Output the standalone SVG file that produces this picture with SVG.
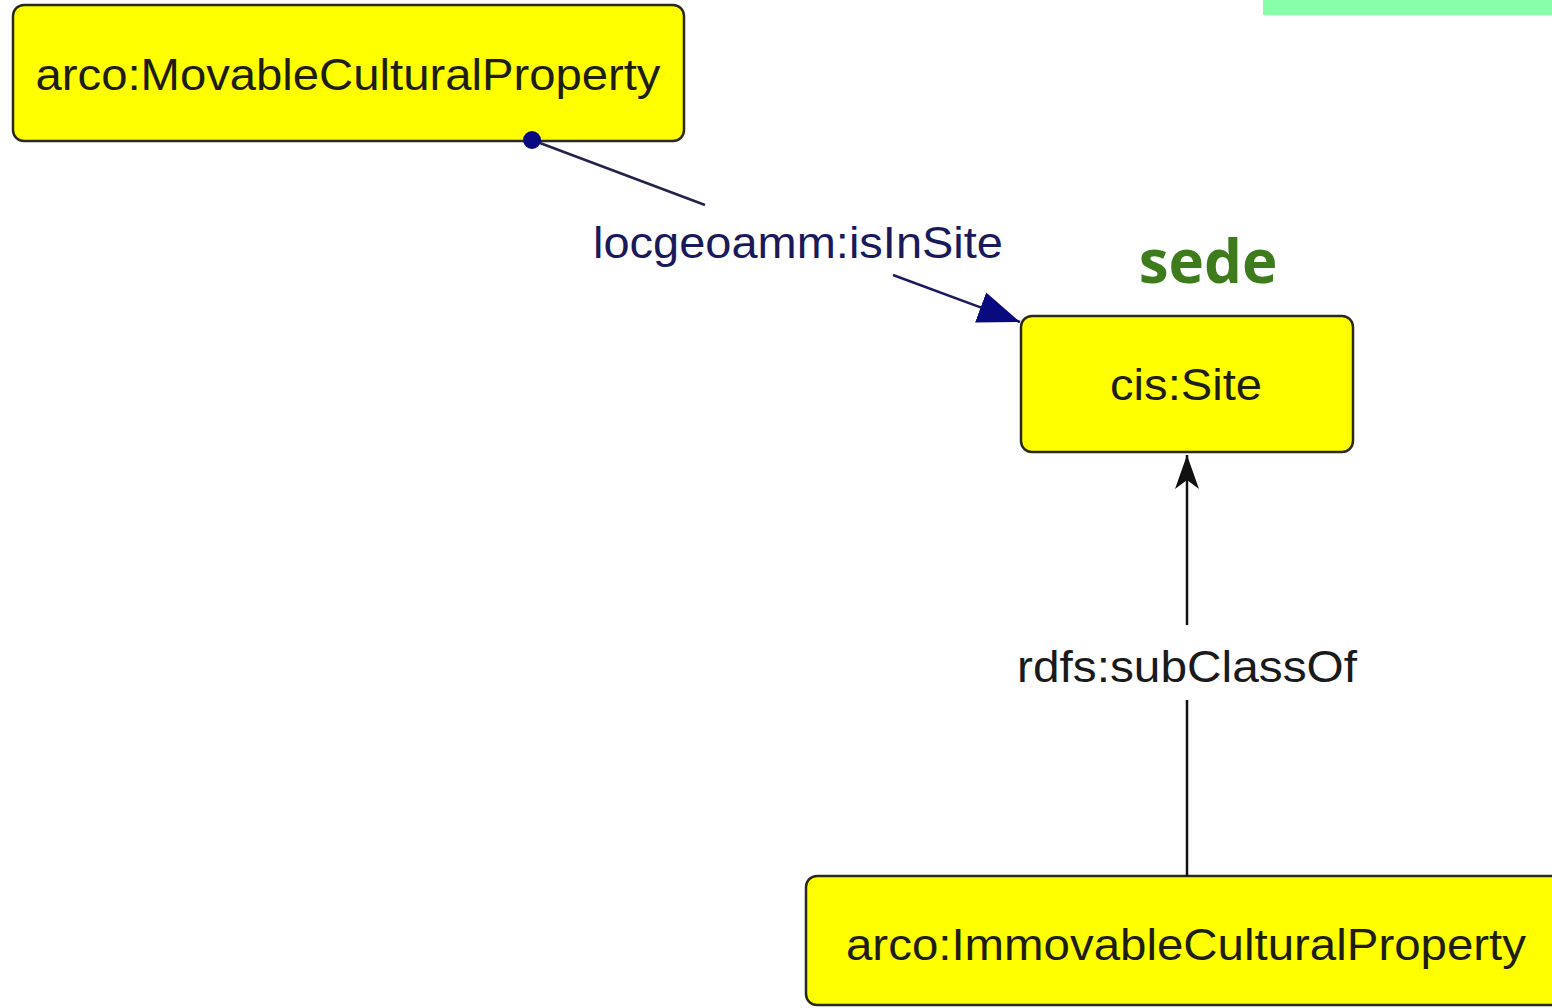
<svg xmlns="http://www.w3.org/2000/svg" width="1552" height="1008" viewBox="0 0 1552 1008">
<style>
.node rect{fill:#ffff00;stroke:#2a2a1a;stroke-width:2.5}
.lbl{font-family:"Liberation Sans",Arial,sans-serif;font-size:44px;fill:#1e1e10;text-anchor:middle}
.elbl{font-family:"Liberation Sans",Arial,sans-serif;font-size:44px;text-anchor:middle}
</style>
<defs>
<marker id="navyArrow" markerUnits="userSpaceOnUse" markerWidth="44" markerHeight="36" refX="42" refY="18" orient="auto">
<path d="M0,2 L42,18 L0,34 Z" fill="#0a0a80"/>
</marker>
<marker id="blackArrow" markerUnits="userSpaceOnUse" markerWidth="36" markerHeight="28" refX="34" refY="14" orient="auto">
<path d="M0,2 L34,14 L0,26 L9,14 Z" fill="#111"/>
</marker>
</defs>
<rect x="0" y="0" width="1552" height="1008" fill="#ffffff"/>
<rect x="1263" y="0" width="289" height="15" fill="#86ffa8"/>
<text x="1208" y="283" font-family="'Open Sans','Noto Sans',sans-serif" font-weight="bold" font-size="60" fill="#3e7b1c" text-anchor="middle">sede</text>
<g id="node-movable" class="node">
<rect x="13" y="5" width="671" height="136" rx="11"/>
<text class="lbl" x="348" y="90" textLength="625" lengthAdjust="spacingAndGlyphs">arco:MovableCulturalProperty</text>
</g>
<g id="node-site" class="node">
<rect x="1021" y="316" width="332" height="136" rx="11"/>
<text class="lbl" x="1186" y="400" textLength="152" lengthAdjust="spacingAndGlyphs">cis:Site</text>
</g>
<g id="node-immovable" class="node">
<rect x="806" y="876" width="770" height="129" rx="11"/>
<text class="lbl" x="1186" y="960" textLength="680" lengthAdjust="spacingAndGlyphs">arco:ImmovableCulturalProperty</text>
</g>
<g id="connectors">
<g id="edge-isInSite">
<line x1="532" y1="140" x2="705" y2="205" stroke="#22224a" stroke-width="2.5"/>
<circle cx="532" cy="140" r="9" fill="#0a0a80"/>
<line x1="893" y1="275" x2="1020" y2="322" stroke="#1a1a60" stroke-width="2.5" marker-end="url(#navyArrow)"/>
<text class="elbl" x="798" y="258" fill="#1a1a5a" textLength="410" lengthAdjust="spacingAndGlyphs">locgeoamm:isInSite</text>
</g>
<g id="edge-subClassOf">
<line x1="1187" y1="876" x2="1187" y2="700" stroke="#111" stroke-width="2.5"/>
<line x1="1187" y1="625" x2="1187" y2="455" stroke="#111" stroke-width="2.5" marker-end="url(#blackArrow)"/>
<text class="elbl" x="1187" y="682" fill="#1a1a1a" textLength="340" lengthAdjust="spacingAndGlyphs">rdfs:subClassOf</text>
</g>
</g>
</svg>
